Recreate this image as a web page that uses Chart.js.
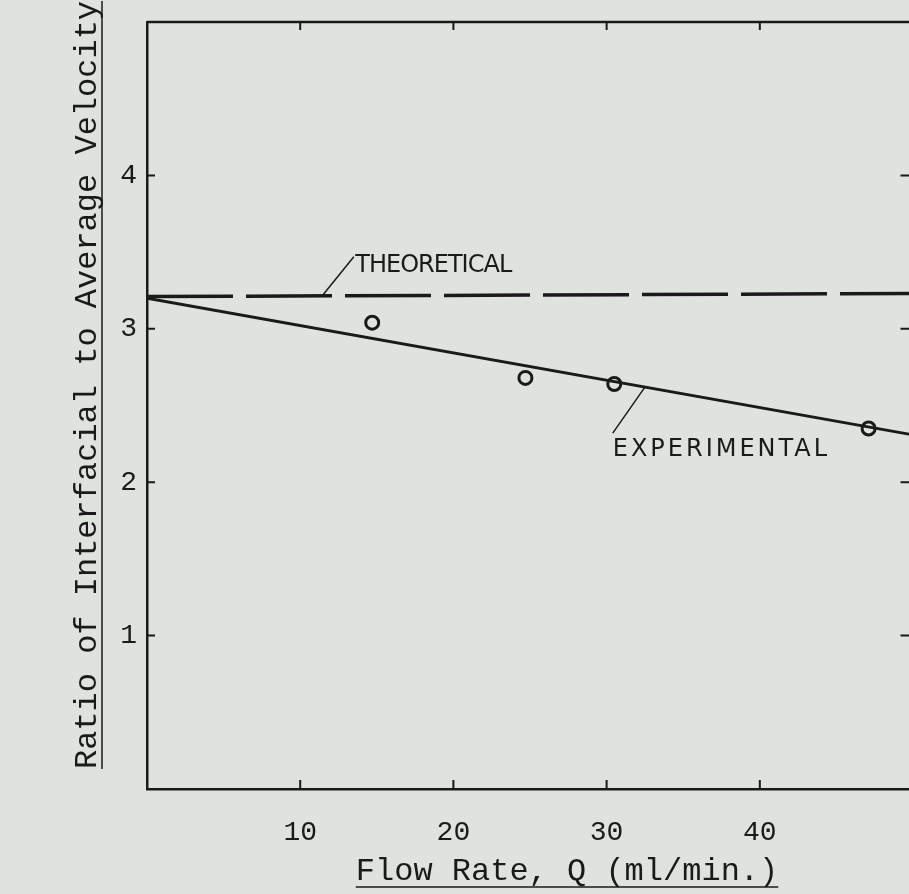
<!DOCTYPE html>
<html>
<head>
<meta charset="utf-8">
<script src="https://cdn.jsdelivr.net/npm/chart.js@4.4.1/dist/chart.umd.min.js"></script>
<style>
  html, body { margin: 0; padding: 0; background: #dfe3de; overflow: hidden; }
  #wrap { width: 921px; height: 894px; }
</style>
</head>
<body>
<div id="wrap"><canvas id="flowChart" width="921" height="894"></canvas></div>
<script>
// data
var xTicks = [10, 20, 30, 40];
var yTicks = [1, 2, 3, 4];
var flowRate = [14.7, 24.7, 30.5, 47.1];
var velocityRatio = [3.04, 2.68, 2.64, 2.35];
var experimentalX = [0, 49.9];
var experimentalY = [3.20, 2.31];
var theoreticalX = [0, 49.9];
var theoreticalY = [3.21, 3.23];
var xTitle = 'Flow Rate, Q (ml/min.)';
var yTitle = 'Ratio of Interfacial to Average Velocity';

var ink = '#1a1a1a';
var paper = '#dfe3de';
var mono = '"Liberation Mono", "DejaVu Sans Mono", monospace';

function pairs(xs, ys) {
    return xs.map(function (x, i) { return { x: x, y: ys[i] }; });
}

// frame, inward ticks, annotations and underlined axis titles
var paperPlugin = {
    id: 'paper',
    beforeDraw: function (chart) {
        var c = chart.ctx;
        c.save();
        c.fillStyle = paper;
        c.fillRect(0, 0, chart.width, chart.height);
        c.restore();
    },
    afterDraw: function (chart) {
        var c = chart.ctx;
        var a = chart.chartArea;
        var xs = chart.scales.x, ys = chart.scales.y;
        c.save();
        c.strokeStyle = ink;
        c.lineWidth = 2.5;
        c.beginPath();
        c.moveTo(a.left, a.top); c.lineTo(a.right, a.top); c.lineTo(a.right, a.bottom);
        c.stroke();

        c.lineWidth = 2;
        xTicks.forEach(function (v) {
            var px = xs.getPixelForValue(v);
            c.beginPath();
            c.moveTo(px, a.bottom); c.lineTo(px, a.bottom - 9);
            c.moveTo(px, a.top); c.lineTo(px, a.top + 8);
            c.stroke();
        });
        yTicks.forEach(function (v) {
            var py = ys.getPixelForValue(v);
            c.beginPath();
            c.moveTo(a.left, py); c.lineTo(a.left + 8, py);
            c.moveTo(a.right, py); c.lineTo(a.right - 11, py);
            c.stroke();
        });

        // leader lines
        c.lineWidth = 1.5;
        c.beginPath();
        c.moveTo(xs.getPixelForValue(11.4), ys.getPixelForValue(3.21));
        c.lineTo(xs.getPixelForValue(13.5), ys.getPixelForValue(3.47));
        c.moveTo(xs.getPixelForValue(32.5), ys.getPixelForValue(2.62));
        c.lineTo(xs.getPixelForValue(30.4), ys.getPixelForValue(2.32));
        c.stroke();

        c.fillStyle = ink;
        c.textBaseline = 'middle';
        c.textAlign = 'left';
        c.font = '24px "DejaVu Sans", sans-serif';
        c.letterSpacing = '-1px';
        c.fillText('THEORETICAL', xs.getPixelForValue(13.6), ys.getPixelForValue(3.41));
        c.letterSpacing = '3px';
        c.fillText('EXPERIMENTAL', xs.getPixelForValue(30.4), ys.getPixelForValue(2.21));
        c.letterSpacing = '0px';

        // axis titles
        c.font = '32px ' + mono;
        c.textAlign = 'center';
        c.textBaseline = 'alphabetic';
        var tx = 567, ty = 880;
        c.fillText(xTitle, tx, ty);
        var w = c.measureText(xTitle).width;
        c.lineWidth = 1.5;
        c.beginPath();
        c.moveTo(tx - w / 2, ty + 7); c.lineTo(tx + w / 2, ty + 7);
        c.stroke();

        c.translate(96, 385);
        c.rotate(-Math.PI / 2);
        c.fillText(yTitle, 0, 0);
        w = c.measureText(yTitle).width;
        c.beginPath();
        c.moveTo(-w / 2, 6); c.lineTo(w / 2, 6);
        c.stroke();
        c.restore();
    }
};

var ctx = document.getElementById('flowChart').getContext('2d');
var flowChart = new Chart(ctx, {
    type: 'scatter',
    data: {
        datasets: [{
            label: 'Theoretical',
            type: 'line',
            data: pairs(theoreticalX, theoreticalY),
            borderColor: ink,
            borderWidth: 3.5,
            borderDash: [86, 13],
            pointRadius: 0,
            fill: false
        }, {
            label: 'Experimental',
            type: 'line',
            data: pairs(experimentalX, experimentalY),
            borderColor: ink,
            borderWidth: 3,
            pointRadius: 0,
            fill: false
        }, {
            label: 'Measured',
            data: pairs(flowRate, velocityRatio),
            pointRadius: 6.5,
            pointBorderWidth: 3,
            pointBorderColor: ink,
            pointBackgroundColor: paper
        }]
    },
    options: {
        responsive: false,
        devicePixelRatio: 1,
        animation: false,
        layout: { padding: { top: 22, right: 0, left: 0, bottom: 0 } },
        plugins: {
            legend: { display: false },
            tooltip: { enabled: false }
        },
        scales: {
            x: {
                type: 'linear',
                min: 0,
                max: 49.9,
                afterBuildTicks: function (scale) {
                    scale.ticks = xTicks.map(function (v) { return { value: v }; });
                },
                afterFit: function (scale) {
                    scale.height = 105;
                    scale.paddingLeft = 0;
                    scale.paddingRight = 0;
                },
                grid: { display: false, drawTicks: false },
                border: { display: true, color: ink, width: 2.5 },
                ticks: {
                    padding: 27,
                    color: ink,
                    font: { family: mono, size: 28 }
                }
            },
            y: {
                min: 0,
                max: 5,
                afterBuildTicks: function (scale) {
                    scale.ticks = yTicks.map(function (v) { return { value: v }; });
                },
                afterFit: function (scale) {
                    scale.width = 147;
                    scale.paddingTop = 0;
                    scale.paddingBottom = 0;
                },
                grid: { display: false, drawTicks: false },
                border: { display: true, color: ink, width: 2.5 },
                ticks: {
                    padding: 10,
                    color: ink,
                    font: { family: mono, size: 28 }
                }
            }
        }
    },
    plugins: [paperPlugin]
});
</script>
</body>
</html>
